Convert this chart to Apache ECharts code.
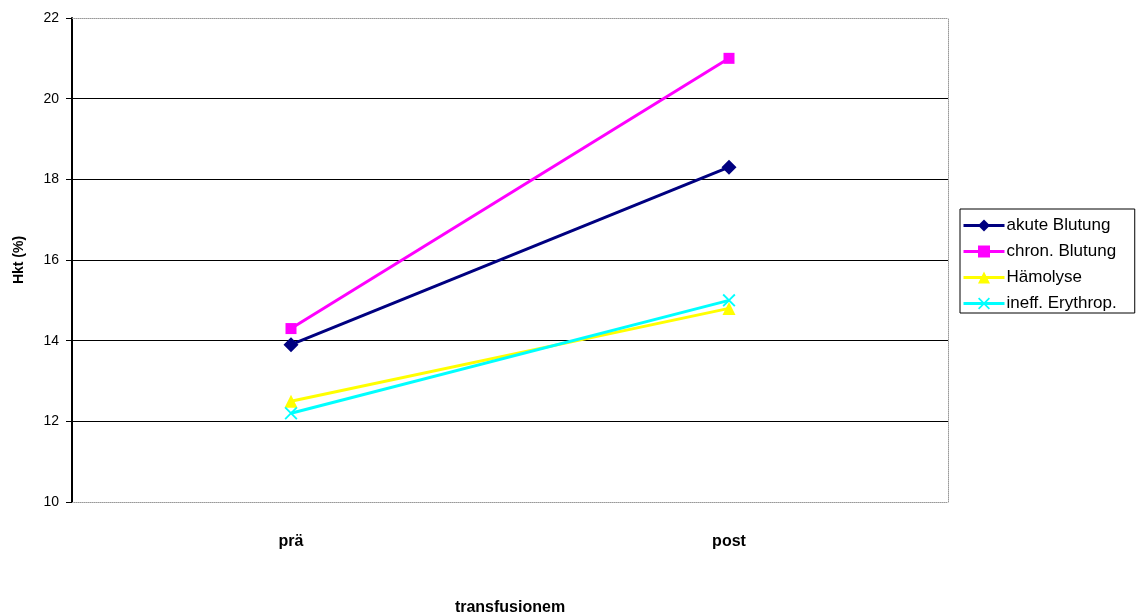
<!DOCTYPE html>
<html>
<head>
<meta charset="utf-8">
<script src="https://cdn.jsdelivr.net/npm/echarts@6/dist/echarts.min.js"></script>
<style>
  html, body { margin: 0; padding: 0; background: #fff; }
  #chart { width: 1137px; height: 615px; }
</style>
</head>
<body>
<div id="chart"></div>
<script>
// Hämatokrit vor und nach Transfusion, nach Anämieursache
const categories = ['prä', 'post'];
const akuteBlutung = [13.9, 18.3];
const chronBlutung = [14.3, 21.0];
const haemolyse = [12.5, 14.8];
const ineffErythrop = [12.2, 15.0];
const gridValues = [12, 14, 16, 18, 20];

const FONT = 'Liberation Sans, Arial, sans-serif';
const crossPath = 'path://M0,1L1,0L5,4L9,0L10,1L6,5L10,9L9,10L5,6L1,10L0,9L4,5Z';

function lineSeries(name, data, color, symbol, size) {
  return {
    name: name,
    type: 'line',
    data: data,
    symbol: symbol,
    symbolSize: size,
    showSymbol: true,
    z: 5,
    lineStyle: { color: color, width: 3 },
    itemStyle: { color: color, borderWidth: 0 },
    emphasis: { disabled: true }
  };
}

const chart = echarts.init(document.getElementById('chart'), null, { renderer: 'canvas' });
chart.setOption({
  animation: false,
  backgroundColor: '#ffffff',
  textStyle: { fontFamily: FONT },
  grid: {
    left: 72, right: 189, top: 18, bottom: 113,
    containLabel: false,
    outerBoundsMode: 'none'
  },
  legend: {
    orient: 'vertical',
    left: 960,
    top: 209,
    backgroundColor: '#ffffff',
    borderColor: '#000000',
    borderWidth: 1,
    borderRadius: 0,
    padding: [8, 18, 1, 2],
    itemWidth: 41,
    itemHeight: 15,
    itemGap: 9,
    lineStyle: { width: 3 },
    textStyle: { fontFamily: FONT, fontSize: 17, color: '#000000', padding: [0, 0, 0, -3] },
    data: ['akute Blutung', 'chron. Blutung', 'Hämolyse', 'ineff. Erythrop.']
  },
  xAxis: [
    {
      type: 'category',
      data: categories,
      boundaryGap: true,
      position: 'bottom',
      name: 'transfusionem',
      nameLocation: 'middle',
      nameGap: 98,
      nameTextStyle: { fontFamily: FONT, fontSize: 16, fontWeight: 'bold', color: '#000' },
      axisLine: { show: true, lineStyle: { color: '#999', width: 1, type: 'dotted' } },
      axisTick: { show: false },
      axisLabel: { margin: 32, fontFamily: FONT, fontSize: 16, fontWeight: 'bold', color: '#000' },
      splitLine: { show: false }
    },
    {
      type: 'category',
      data: categories,
      position: 'top',
      axisLine: { show: true, lineStyle: { color: '#999', width: 1, type: 'dotted' } },
      axisTick: { show: false },
      axisLabel: { show: false },
      splitLine: { show: false }
    }
  ],
  yAxis: [
    {
      type: 'value',
      min: 10,
      max: 22,
      interval: 2,
      position: 'left',
      name: 'Hkt (%)',
      nameLocation: 'middle',
      nameGap: 46,
      nameRotate: 90,
      nameTextStyle: { fontFamily: FONT, fontSize: 14, fontWeight: 'bold', color: '#000' },
      axisLine: { show: true, onZero: false, lineStyle: { color: '#000', width: 2 } },
      axisTick: { show: true, inside: false, length: 6, lineStyle: { color: '#000', width: 1 } },
      axisLabel: { margin: 13, fontFamily: FONT, fontSize: 14, color: '#000' },
      splitLine: { show: false }
    },
    {
      type: 'value',
      min: 10,
      max: 22,
      interval: 2,
      position: 'right',
      axisLine: { show: true, onZero: false, lineStyle: { color: '#999', width: 1, type: 'dotted' } },
      axisTick: { show: false },
      axisLabel: { show: false },
      splitLine: { show: false }
    }
  ],
  series: [
    {
      name: '_grid',
      type: 'line',
      data: [],
      z: 1,
      silent: true,
      markLine: {
        silent: true,
        symbol: ['none', 'none'],
        label: { show: false },
        lineStyle: { color: '#000', width: 1, type: 'solid' },
        emphasis: { disabled: true },
        data: gridValues.map(v => ({ yAxis: v }))
      }
    },
    lineSeries('akute Blutung', akuteBlutung, '#000080', 'diamond', 15),
    lineSeries('chron. Blutung', chronBlutung, '#FF00FF', 'rect', 11),
    lineSeries('Hämolyse', haemolyse, '#FFFF00', 'triangle', 13),
    lineSeries('ineff. Erythrop.', ineffErythrop, '#00FFFF', crossPath, 13)
  ]
});
</script>
</body>
</html>
